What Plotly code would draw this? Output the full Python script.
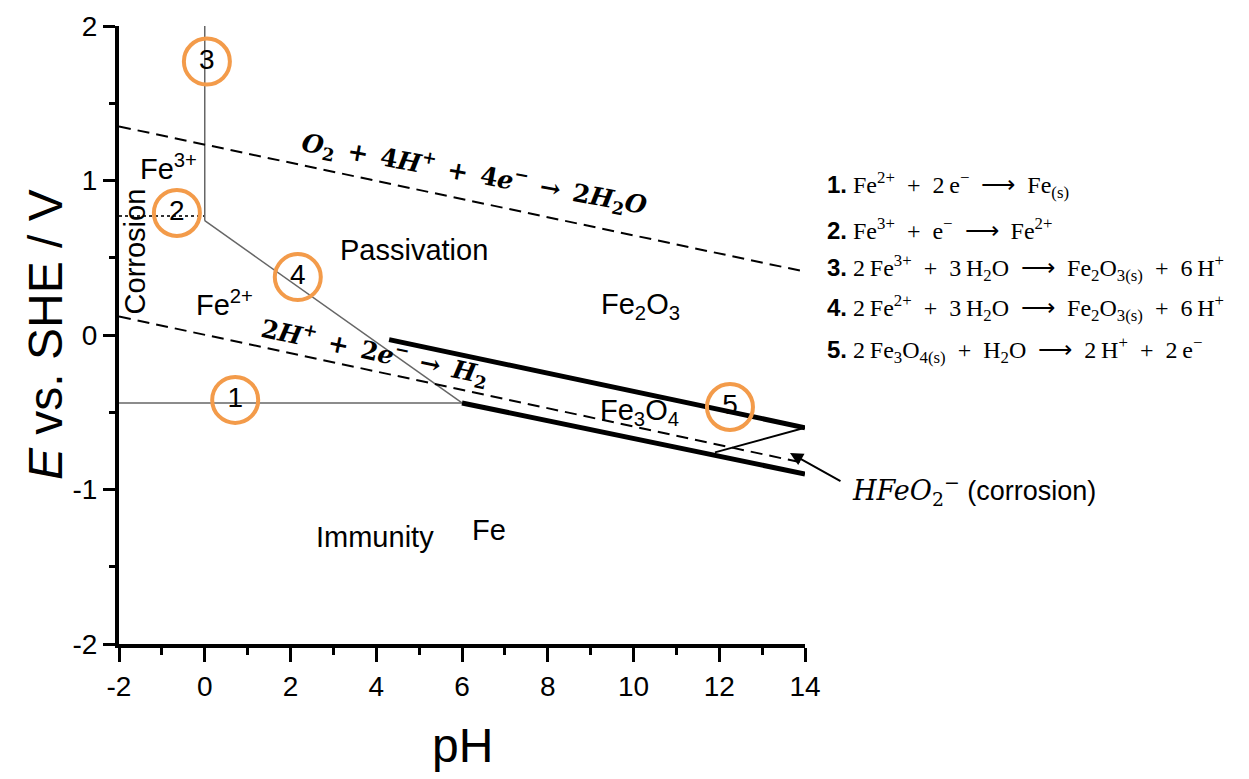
import plotly.graph_objects as go

# ---------------- data ----------------
# boundary lines of the Pourbaix diagram (pH, E vs SHE / V)
ph_fe3_fe2 = [-2, 0]
e_fe3_fe2 = [0.77, 0.77]
ph_fe3_fe2o3 = [0, 0]
e_fe3_fe2o3 = [0.74, 2.0]
ph_fe2_fe2o3 = [0, 6]
e_fe2_fe2o3 = [0.74, -0.44]
ph_fe2_fe = [-2, 6]
e_fe2_fe = [-0.44, -0.44]
ph_fe3o4_fe2o3 = [4.3, 14]
e_fe3o4_fe2o3 = [-0.03, -0.60]
ph_fe_fe3o4 = [6, 14]
e_fe_fe3o4 = [-0.44, -0.90]
ph_o2 = [-2, 14]
e_o2 = [1.35, 0.41]
ph_h2 = [-2, 14]
e_h2 = [0.12, -0.83]
ph_hfeo2 = [11.9, 14]
e_hfeo2 = [-0.76, -0.60]

# numbered circles
circle_ph = [0.71, -0.65, 0.05, 2.17, 12.25]
circle_e = [-0.42, 0.79, 1.77, 0.375, -0.466]
circle_labels = ["1", "2", "3", "4", "5"]

# region labels
region_text = ["Fe<sup>3+</sup>", "Fe<sup>2+</sup>", "Passivation", "Fe<sub>2</sub>O<sub>3</sub>",
               "Fe<sub>3</sub>O<sub>4</sub>", "Immunity", "Fe"]
region_ph = [-0.85, 0.45, 4.88, 10.17, 10.15, 3.97, 6.63]
region_e = [1.09, 0.21, 0.55, 0.19, -0.50, -1.31, -1.26]

# reactions list
SP = "\u2002"
TH = "\u2009"
reactions = [
    f"Fe<sup>2+</sup>{SP}+{SP}2{TH}e<sup>−</sup>{SP}⟶{SP}Fe<sub>(s)</sub>",
    f"Fe<sup>3+</sup>{SP}+{SP}e<sup>−</sup>{SP}⟶{SP}Fe<sup>2+</sup>",
    f"2{TH}Fe<sup>3+</sup>{SP}+{SP}3{TH}H<sub>2</sub>O{SP}⟶{SP}Fe<sub>2</sub>O<sub>3(s)</sub>{SP}+{SP}6{TH}H<sup>+</sup>",
    f"2{TH}Fe<sup>2+</sup>{SP}+{SP}3{TH}H<sub>2</sub>O{SP}⟶{SP}Fe<sub>2</sub>O<sub>3(s)</sub>{SP}+{SP}6{TH}H<sup>+</sup>",
    f"2{TH}Fe<sub>3</sub>O<sub>4(s)</sub>{SP}+{SP}H<sub>2</sub>O{SP}⟶{SP}2{TH}H<sup>+</sup>{SP}+{SP}2{TH}e<sup>−</sup>",
]
reaction_y_px = [185, 229, 268, 308, 350]

x_ticks = [-2, 0, 2, 4, 6, 8, 10, 12, 14]
y_ticks = [-2, -1, 0, 1, 2]

# ---------------- figure ----------------
SANS = "Liberation Sans"
SERIF = "Liberation Serif"
ORANGE = "#F39B4A"
GRAY = "#666666"

fig = go.Figure()

def add_line(x, y, color="black", width=1.5, dash="solid"):
    fig.add_trace(go.Scatter(x=x, y=y, mode="lines", showlegend=False, hoverinfo="skip",
                             line=dict(color=color, width=width, dash=dash)))

add_line(ph_fe3_fe2, e_fe3_fe2, color="#333333", width=2, dash="dot")
add_line(ph_fe3_fe2o3, e_fe3_fe2o3, color=GRAY, width=1.5)
add_line(ph_fe2_fe2o3, e_fe2_fe2o3, color=GRAY, width=1.5)
add_line(ph_fe2_fe, e_fe2_fe, color=GRAY, width=1.5)
add_line(ph_o2, e_o2, color="black", width=2, dash="12px,7px")
add_line(ph_h2, e_h2, color="black", width=2, dash="12px,7px")
add_line(ph_fe3o4_fe2o3, e_fe3o4_fe2o3, color="black", width=5)
add_line(ph_fe_fe3o4, e_fe_fe3o4, color="black", width=5)
add_line(ph_hfeo2, e_hfeo2, color="black", width=1.8)

fig.add_trace(go.Scatter(
    x=circle_ph, y=circle_e, mode="markers+text", text=circle_labels, showlegend=False,
    hoverinfo="skip", cliponaxis=False,
    marker=dict(symbol="circle-open", size=46, line=dict(color=ORANGE, width=4), color=ORANGE),
    textposition="middle center", textfont=dict(family=SANS, size=28, color="black")))

annotations = []
for t, px_, pe in zip(region_text, region_ph, region_e):
    annotations.append(dict(x=px_, y=pe, xref="x", yref="y", text=t, showarrow=False,
                            xanchor="center", yanchor="middle",
                            font=dict(family=SANS, size=29, color="black")))

annotations.append(dict(x=-1.63, y=0.54, xref="x", yref="y", text="Corrosion", showarrow=False,
                        xanchor="center", yanchor="middle",
                        textangle=-90, font=dict(family=SANS, size=29, color="black")))

annotations.append(dict(
    x=6.28, y=1.04, xref="x", yref="y", showarrow=False, textangle=10.5,
    xanchor="center", yanchor="middle",
    text=(f"<b><i>O</i><sub>2</sub>{SP}+{SP}4<i>H</i><sup>+</sup>{SP}+{SP}4<i>e</i><sup>−</sup>"
          f"{SP}→{SP}2<i>H</i><sub>2</sub><i>O</i></b>"),
    font=dict(family="DejaVu Serif", size=25, color="black")))
annotations.append(dict(
    x=3.95, y=-0.11, xref="x", yref="y", showarrow=False, textangle=12,
    xanchor="center", yanchor="middle",
    text=f"<b>2<i>H</i><sup>+</sup>{SP}+{SP}2<i>e</i><sup>−</sup>{SP}→{SP}<i>H</i><sub>2</sub></b>",
    font=dict(family="DejaVu Serif", size=25, color="black")))

# arrow pointing to HFeO2- region
annotations.append(dict(x=13.65, y=-0.764, xref="x", yref="y", ax=52, ay=29, text="",
                        showarrow=True, arrowhead=2, arrowsize=1.3, arrowwidth=2, arrowcolor="black"))
annotations.append(dict(
    x=(850 - 119) / 686, y=(644 - 490) / 618, xref="paper", yref="paper",
    xanchor="left", yanchor="middle", showarrow=False,
    text="<span style='font-family:DejaVu Serif'><i>HFeO</i><sub>2</sub><sup>−</sup></span> (corrosion)",
    font=dict(family=SANS, size=27, color="black")))

for i, (r, py) in enumerate(zip(reactions, reaction_y_px)):
    annotations.append(dict(
        x=(825 - 119) / 686, y=(644 - py) / 618, xref="paper", yref="paper",
        xanchor="left", yanchor="middle", showarrow=False,
        text=f"<span style='font-family:Liberation Sans'><b>{i + 1}.</b></span> {r}",
        font=dict(family=SERIF, size=24, color="black")))

# axis titles
annotations.append(dict(x=(45 - 119) / 686, y=0.5, xref="paper", yref="paper", showarrow=False,
                        xanchor="center", yanchor="middle",
                        textangle=-90, text="<i>E</i> vs. SHE / V",
                        font=dict(family=SANS, size=48, color="black")))
annotations.append(dict(x=(462 - 119) / 686, y=(644 - 745) / 618, xref="paper", yref="paper",
                        xanchor="center", yanchor="middle",
                        showarrow=False, text="pH", font=dict(family=SANS, size=48, color="black")))

fig.update_layout(
    width=1249, height=779,
    margin=dict(l=119, r=444, t=26, b=135),
    paper_bgcolor="white", plot_bgcolor="white",
    annotations=annotations,
    xaxis=dict(range=[-2, 14], tickvals=x_ticks, ticktext=[str(v) for v in x_ticks],
               showgrid=False, zeroline=False, showline=True, linecolor="black", linewidth=4,
               ticks="outside", ticklen=14, tickwidth=3, tickcolor="black",
               minor=dict(ticks="outside", ticklen=7, tickwidth=3, dtick=1, tickcolor="black"),
               tickfont=dict(family=SANS, size=28, color="black")),
    yaxis=dict(range=[-2, 2], tickvals=y_ticks, ticktext=[str(v) for v in y_ticks],
               showgrid=False, zeroline=False, showline=True, linecolor="black", linewidth=4,
               ticks="outside", ticklen=12, tickwidth=3, tickcolor="black",
               minor=dict(ticks="outside", ticklen=6, tickwidth=3, dtick=0.5, tickcolor="black"),
               tickfont=dict(family=SANS, size=28, color="black")),
)

fig.write_html("out.html")
